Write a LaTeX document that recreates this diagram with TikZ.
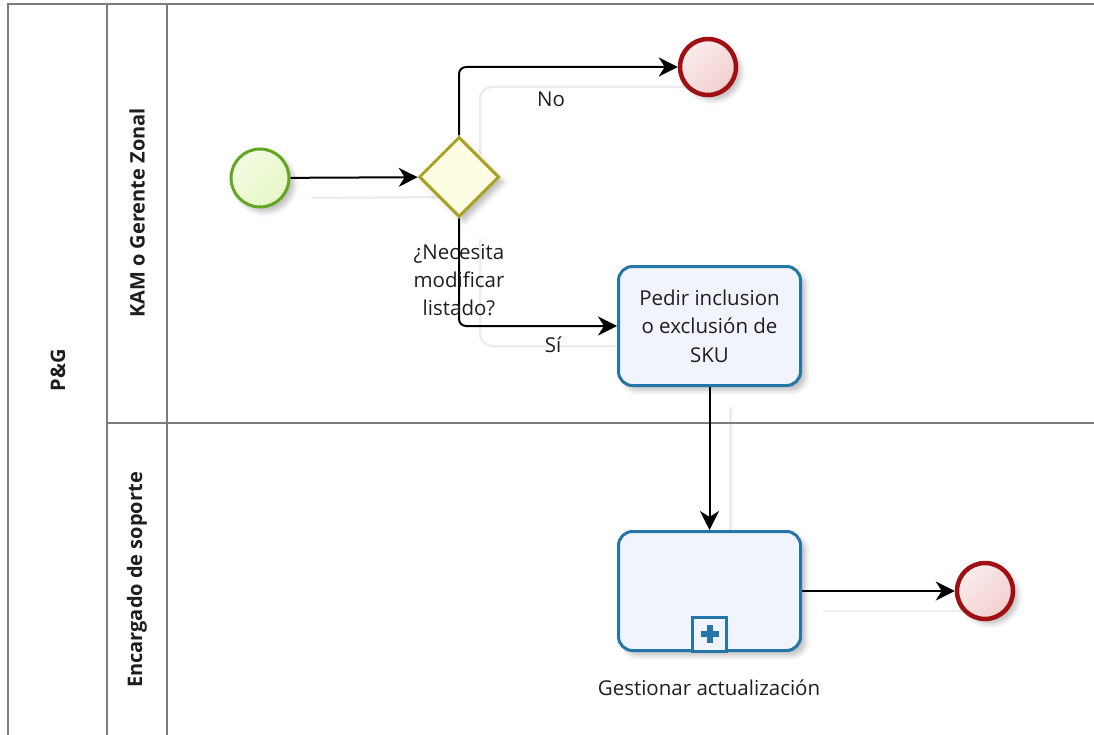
\documentclass[tikz,border=0pt]{standalone}
\usepackage{fontspec}
\setmainfont{Open Sans}
\usetikzlibrary{shapes.geometric,arrows.meta,shadows.blur}

\pgfdeclarelayer{background}
\pgfsetlayers{background,main}

\definecolor{laneline}{HTML}{7C7C7C}
\definecolor{startline}{HTML}{62A621}
\definecolor{startfill}{HTML}{E6F7C6}
\definecolor{gwline}{HTML}{A9A223}
\definecolor{gwfill}{HTML}{FDFDE3}
\definecolor{endline}{HTML}{A00F12}
\definecolor{endfill}{HTML}{F3CFCF}
\definecolor{taskline}{HTML}{2576A6}
\definecolor{taskfill}{HTML}{F1F4FC}
\definecolor{txt}{HTML}{1E1E1E}

\tikzset{
  lane/.style={draw=laneline, line width=2.4pt},
  lanelabel/.style={rotate=90, font=\bfseries\fontsize{20}{24}\selectfont, text=txt},
  shade/.style={blur shadow={shadow xshift=5pt, shadow yshift=-5pt, shadow opacity=25, shadow blur radius=5pt}},
  startev/.style={circle, draw=startline, line width=3pt, minimum size=58pt, inner sep=0pt,
    left color=startfill!50!white, right color=startfill, shading angle=45, shade},
  gateway/.style={diamond, draw=gwline, line width=3pt, minimum width=80pt, minimum height=80pt,
    inner sep=0pt, fill=gwfill, shade},
  endev/.style={circle, draw=endline, line width=4.5pt, minimum size=56pt, inner sep=0pt,
    left color=endfill!40!white, right color=endfill, shading angle=45, shade},
  task/.style={rectangle, rounded corners=14pt, draw=taskline, line width=3pt,
    minimum width=182pt, minimum height=119pt, fill=taskfill, align=center, text=txt,
    font=\fontsize{20.5}{28.5}\selectfont, shade},
  marker/.style={rectangle, draw=taskline, line width=2.8pt, minimum size=34pt, inner sep=0pt, fill=taskfill},
  lbl/.style={text=txt, font=\fontsize{20.5}{28}\selectfont, align=center},
  flow/.style={draw=black, line width=2pt, rounded corners=7pt,
    -{Stealth[length=19pt, width=19pt, inset=6pt]}},
  flowghost/.style={draw=black!7, line width=2.5pt, rounded corners=12pt,
    transform canvas={shift={(21pt,-20pt)}}}
}

\begin{document}
\begin{tikzpicture}[x=1pt, y=-1pt]
  \useasboundingbox (0,0) rectangle (1094,735);

  % pool and lanes
  \draw[lane] (8,740) -- (8,4) -- (1100,4);
  \draw[lane] (107,4) -- (107,740);
  \draw[lane] (167,4) -- (167,740);
  \draw[lane] (107,423) -- (1100,423);

  \node[lanelabel] (pool) at (58,370) {P\&G};
  \node[lanelabel] (lane1) at (137,213) {KAM o Gerente Zonal};
  \node[lanelabel] (lane2) at (137,580) {Encargado de soporte};

  % flow objects
  \node[startev] (start) at (260,178) {};
  \node[gateway] (gw) at (459,177) {};
  \node[endev] (end1) at (708,67) {};
  \node[task] (t1) at (709.5,326) {Pedir inclusion\\o exclusión de\\SKU};
  \node[task] (t2) at (709.5,591) {};
  \node[endev] (end2) at (985,591) {};

  % collapsed sub-process marker
  \node[marker, anchor=south] (mk) at ([yshift=-0.5pt]t2.south) {};
  \draw[taskline, line width=6pt] ([xshift=-9pt]mk.center) -- ([xshift=9pt]mk.center);
  \draw[taskline, line width=6pt] ([yshift=-9pt]mk.center) -- ([yshift=9pt]mk.center);

  % faint connector shadows, behind everything
  \begin{pgfonlayer}{background}
    \draw[flowghost] (start.east) -- (gw.west);
    \draw[flowghost] (gw.north) |- (end1.west);
    \draw[flowghost] (gw.south) |- (t1.west);
    \draw[flowghost] (t1.south) -- (t2.north);
    \draw[flowghost] (t2.east) -- (end2.west);
  \end{pgfonlayer}

  % sequence flows
  \draw[flow] (start) -- (gw);
  \draw[flow] (gw.north) |- (end1);
  \draw[flow] (gw.south) |- (t1);
  \draw[flow] (t1) -- (t2);
  \draw[flow] (t2) -- (end2);

  % labels
  \node[lbl] (gwlbl) at (459,280) {¿Necesita\\modificar\\listado?};
  \node[lbl] (no) at (551,99) {No};
  \node[lbl] (si) at (553,345) {Sí};
  \node[lbl] (t2lbl) at (709,688) {Gestionar actualización};
\end{tikzpicture}
\end{document}
